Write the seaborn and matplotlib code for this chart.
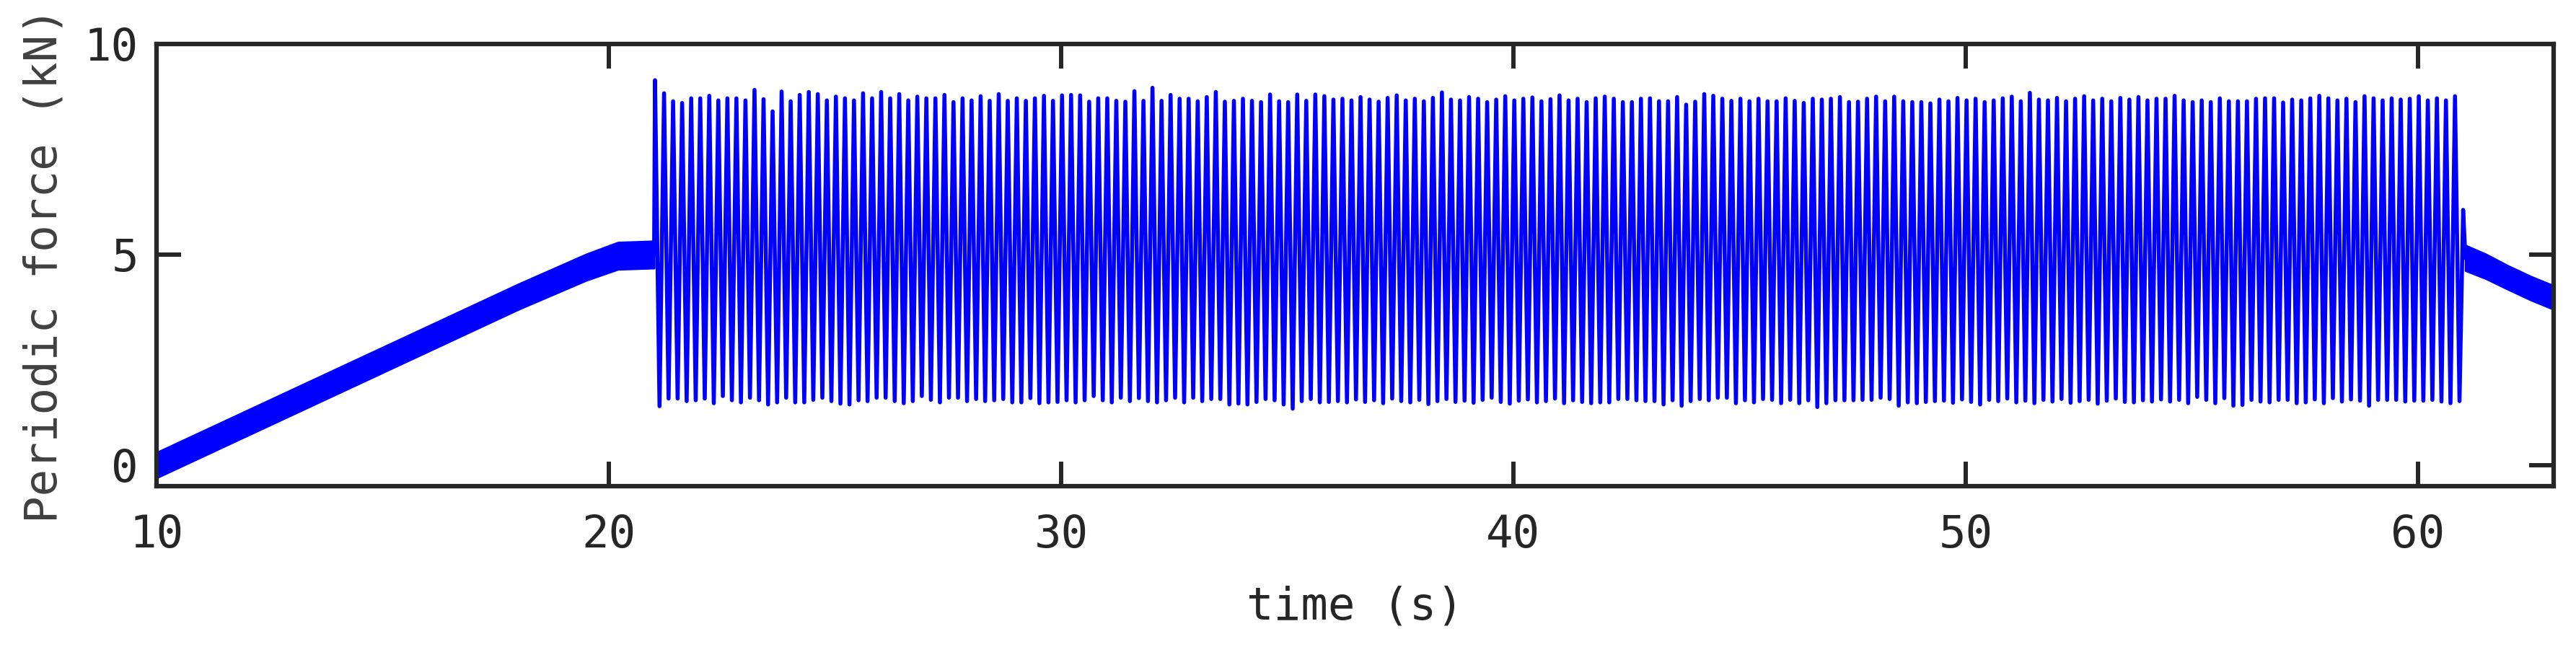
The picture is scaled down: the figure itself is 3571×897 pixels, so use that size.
import matplotlib
matplotlib.use("Agg")
import matplotlib.pyplot as plt
import seaborn as sns
import numpy as np
import pandas as pd

# ---- data ----
# slow ramp before the periodic load (noisy band: centre + half width)
ramp_time = [10.0, 12.0, 14.0, 16.0, 18.0, 19.5, 20.2, 21.0]
ramp_force = [0.0, 1.0, 2.0, 3.0, 4.0, 4.7, 4.97, 5.0]
ramp_halfwidth = [0.3, 0.3, 0.3, 0.3, 0.3, 0.31, 0.32, 0.32]

# relaxation after the periodic load
tail_time = [61.05, 61.5, 62.0, 62.5, 63.0]
tail_force = [4.92, 4.72, 4.45, 4.2, 3.98]
tail_halfwidth = [0.3, 0.29, 0.28, 0.28, 0.28]

# periodic part, 5 Hz: one peak and one trough per cycle
onset_time, onset_force = 21.0, 5.0
first_peak_time = 21.02
cycle_period = 0.2
release_time, release_force = 61.0, 6.06

peak_force = [
    9.14, 8.83, 8.64, 8.60, 8.71, 8.71, 8.77, 8.66, 8.71, 8.71,
    8.66, 8.91, 8.69, 8.40, 8.87, 8.64, 8.79, 8.86, 8.81, 8.66,
    8.75, 8.71, 8.66, 8.83, 8.71, 8.86, 8.71, 8.81, 8.66, 8.75,
    8.71, 8.71, 8.79, 8.62, 8.71, 8.66,
    8.76, 8.65, 8.81, 8.65, 8.71, 8.65, 8.71, 8.77, 8.65, 8.78,
    8.79, 8.78, 8.63, 8.71, 8.71, 8.65, 8.63, 8.88, 8.65, 8.96,
    8.65, 8.79, 8.70, 8.70, 8.64, 8.74, 8.86, 8.63, 8.65, 8.70,
    8.65, 8.62, 8.80, 8.64, 8.62, 8.80, 8.65, 8.80, 8.76, 8.68,
    8.70, 8.66, 8.74, 8.68, 8.63, 8.72, 8.78, 8.66, 8.70, 8.64,
    8.72, 8.85, 8.68, 8.66, 8.74, 8.70, 8.62, 8.68, 8.76, 8.66,
    8.70, 8.73, 8.64, 8.69, 8.78, 8.66, 8.70,
    8.62, 8.71, 8.75, 8.70, 8.62, 8.62, 8.70, 8.71, 8.64, 8.64,
    8.74, 8.56, 8.63, 8.81, 8.77, 8.70, 8.65, 8.70, 8.64, 8.70,
    8.64, 8.64, 8.71, 8.65, 8.60, 8.70, 8.68, 8.70, 8.74, 8.62,
    8.63, 8.70, 8.75, 8.64, 8.75, 8.64, 8.62, 8.62, 8.59,
    8.68, 8.64, 8.72, 8.66, 8.70, 8.62, 8.66, 8.71, 8.75, 8.64,
    8.84, 8.68, 8.66, 8.72, 8.64, 8.70, 8.76, 8.66, 8.70, 8.64,
    8.72, 8.68, 8.74, 8.66, 8.70,
    8.70, 8.77, 8.66, 8.62, 8.66, 8.62, 8.71, 8.64, 8.64, 8.64,
    8.70, 8.71, 8.71, 8.61, 8.68, 8.66, 8.71, 8.77, 8.71, 8.66,
    8.70, 8.62, 8.76, 8.71, 8.66, 8.71, 8.68, 8.70, 8.76, 8.66,
    8.71, 8.66, 8.76,
]

trough_force = [
    1.40, 1.58, 1.58, 1.52, 1.54, 1.58, 1.47, 1.64, 1.54, 1.49,
    1.60, 1.54, 1.44, 1.49, 1.60, 1.49, 1.49, 1.55, 1.60, 1.52,
    1.46, 1.44, 1.54, 1.52, 1.60, 1.60, 1.52, 1.47, 1.52, 1.64,
    1.55, 1.49, 1.60, 1.60, 1.52,
    1.57, 1.52, 1.54, 1.57, 1.49, 1.49, 1.59, 1.47, 1.49, 1.50,
    1.54, 1.49, 1.54, 1.64, 1.54, 1.49, 1.60, 1.52, 1.59, 1.52,
    1.49, 1.54, 1.60, 1.49, 1.60, 1.52, 1.57, 1.57, 1.44, 1.46,
    1.44, 1.50, 1.57, 1.54, 1.44, 1.34, 1.52, 1.57, 1.49, 1.50,
    1.52, 1.49, 1.56, 1.50, 1.54, 1.47, 1.58, 1.52, 1.49, 1.55,
    1.45, 1.52, 1.57, 1.50, 1.53, 1.48, 1.55, 1.60, 1.50, 1.46,
    1.53, 1.56, 1.49, 1.52, 1.58, 1.47, 1.54, 1.50,
    1.47, 1.49, 1.49, 1.57, 1.57, 1.54, 1.52, 1.52, 1.44, 1.54,
    1.41, 1.52, 1.57, 1.54, 1.60, 1.60, 1.47, 1.54, 1.49, 1.57,
    1.55, 1.47, 1.55, 1.47, 1.54, 1.38, 1.47, 1.54, 1.54, 1.54,
    1.55, 1.55, 1.60, 1.57, 1.41, 1.49, 1.47, 1.50, 1.52,
    1.53, 1.48, 1.56, 1.50, 1.44, 1.55, 1.52, 1.58, 1.49, 1.53,
    1.47, 1.55, 1.51, 1.57, 1.48, 1.52, 1.55, 1.46, 1.53, 1.58,
    1.50, 1.49, 1.54, 1.51, 1.56,
    1.51, 1.55, 1.47, 1.62, 1.55, 1.47, 1.59, 1.41, 1.43, 1.55,
    1.51, 1.49, 1.55, 1.55, 1.47, 1.49, 1.56, 1.47, 1.59, 1.51,
    1.56, 1.53, 1.41, 1.55, 1.55, 1.55, 1.51, 1.53, 1.53, 1.55,
    1.51, 1.47, 1.52,
]
assert len(peak_force) == len(trough_force) == 200

x_ticks = [10, 20, 30, 40, 50, 60]
y_ticks = [0, 5, 10]

# ---- build the periodic trace: peak, trough, peak, ... ----
peak_time = first_peak_time + cycle_period * np.arange(len(peak_force))
trough_time = peak_time + cycle_period / 2
t_osc = np.column_stack([peak_time, trough_time]).ravel()
f_osc = np.column_stack([peak_force, trough_force]).ravel()
t_osc = np.concatenate([[onset_time], t_osc, [release_time], tail_time])
f_osc = np.concatenate([[onset_force], f_osc, [release_force], tail_force])
osc = pd.DataFrame({"time": t_osc, "force": f_osc})

sns.set_style("ticks")
plt.rcParams["font.family"] = ["DejaVu Sans Mono", "DejaVu Sans"]
ink = "#262626"
blue = "#0000ff"

fig = plt.figure(figsize=(35.71, 8.97), dpi=100)
ax = fig.add_axes([0.0608, 0.2486, 0.9305, 0.6834])

sns.lineplot(data=osc, x="time", y="force", ax=ax, color=blue, lw=4,
             estimator=None, sort=False)

for tt, cc, hw in [(ramp_time, ramp_force, ramp_halfwidth),
                   (tail_time, tail_force, tail_halfwidth)]:
    cc = np.array(cc)
    hw = np.array(hw)
    ax.fill_between(tt, cc - hw, cc + hw, color=blue, lw=2)

ax.set_xlim(10, 63)
ax.set_ylim(-0.5, 10)
ax.set_xticks(x_ticks)
ax.set_yticks(y_ticks)

for s in ax.spines.values():
    s.set_visible(True)
    s.set_linewidth(4.5)
    s.set_color(ink)
ax.tick_params(direction="in", length=24.5, width=4.3, top=True, right=True,
               labelsize=45, colors=ink)
ax.tick_params(axis="x", pad=27)
ax.tick_params(axis="y", pad=18)

ax.set_xlabel("time (s)", fontsize=45, color=ink, labelpad=29)
ax.set_ylabel("Periodic force (kN)", fontsize=45, color="#404040", labelpad=18)

fig.savefig("out.png", dpi=100)
